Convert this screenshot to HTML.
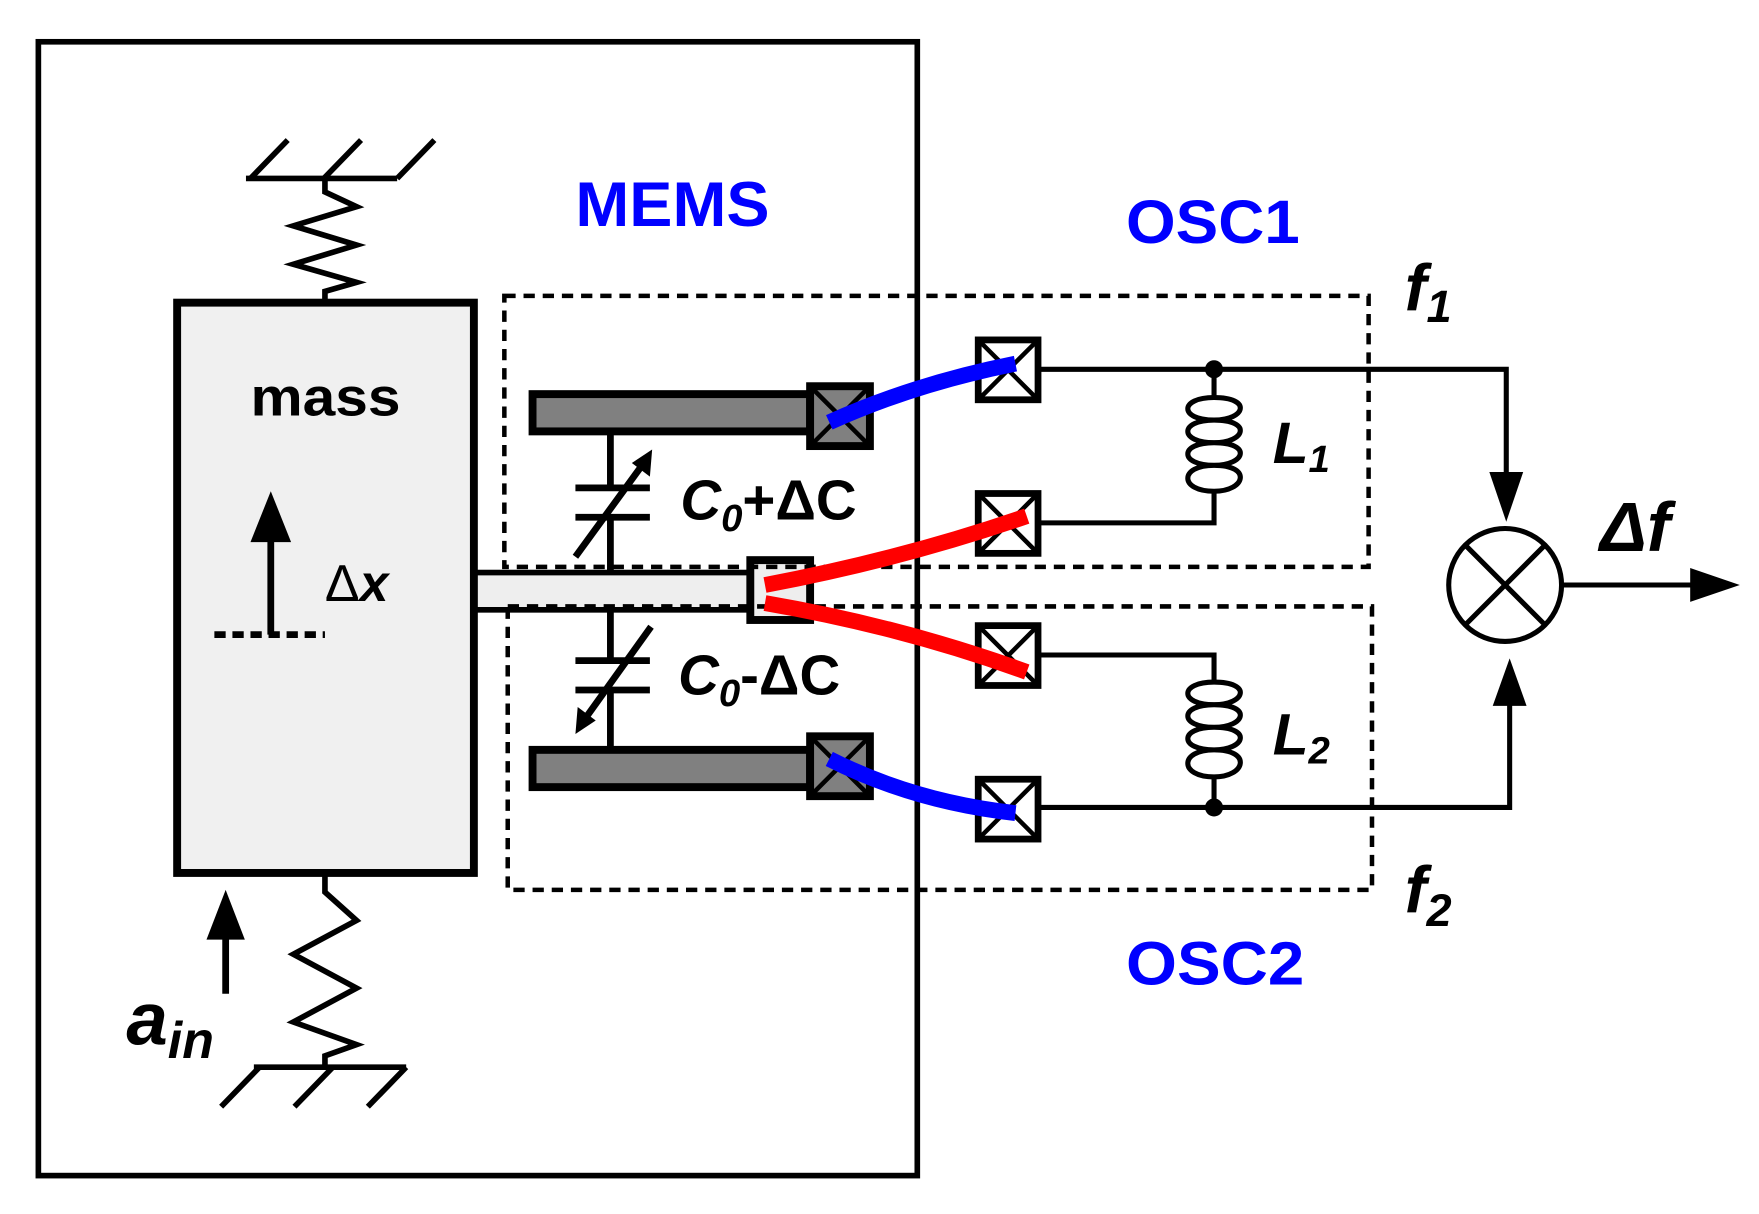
<!DOCTYPE html>
<html><head><style>
html,body{margin:0;padding:0;background:#fff;}
svg{display:block;}
text{font-family:"Liberation Sans",Arial,sans-serif;font-weight:bold;}
</style></head><body>
<svg width="1759" height="1214" viewBox="0 0 1559 1075" preserveAspectRatio="none" xmlns="http://www.w3.org/2000/svg">
<!-- outer box -->
<rect x="34" y="37" width="779" height="1004" fill="none" stroke="#000" stroke-width="5"/>
<!-- top ground -->
<line x1="218" y1="158" x2="352" y2="158" stroke="#000" stroke-width="5"/>
<g stroke="#000" stroke-width="5">
<line x1="255" y1="124" x2="222" y2="158"/><line x1="320" y1="124" x2="287" y2="158"/><line x1="385" y1="124" x2="352" y2="158"/>
</g>
<polyline points="288,158 288,170 316,183 260,200 316,217 260,234 316,250 288,258 288,268" fill="none" stroke="#000" stroke-width="5"/>
<!-- mass -->
<rect x="157" y="268" width="263" height="505" fill="#f0f0f0" stroke="#000" stroke-width="7"/>
<text x="222" y="368" font-size="48" textLength="133" lengthAdjust="spacingAndGlyphs">mass</text>
<line x1="240" y1="562" x2="240" y2="470" stroke="#000" stroke-width="6"/>
<polygon points="222,480 258,480 240,435" fill="#000"/>
<line x1="190" y1="562" x2="288" y2="562" stroke="#000" stroke-width="6" stroke-dasharray="10,6"/>
<text x="288" y="532" font-size="46" style="font-weight:normal">Δ<tspan font-style="italic" font-weight="bold">x</tspan></text>
<!-- bottom spring -->
<polyline points="288,773 288,790 316,815 260,845 316,875 260,905 316,925 288,935 288,945" fill="none" stroke="#000" stroke-width="5"/>
<line x1="225" y1="945" x2="360" y2="945" stroke="#000" stroke-width="5"/>
<g stroke="#000" stroke-width="5">
<line x1="230" y1="945" x2="196" y2="980"/><line x1="295" y1="945" x2="261" y2="980"/><line x1="360" y1="945" x2="326" y2="980"/>
</g>
<!-- a_in -->
<line x1="200" y1="880" x2="200" y2="822" stroke="#000" stroke-width="6"/>
<polygon points="183,832 217,832 200,788" fill="#000"/>
<text x="112" y="925" font-size="66" font-style="italic">a<tspan font-size="46" dy="12">in</tspan></text>
<!-- beam -->
<rect x="421" y="507" width="244" height="33" fill="#eee" stroke="#000" stroke-width="5"/>
<rect x="665" y="496" width="53" height="53" fill="#eee" stroke="#000" stroke-width="7"/>
<!-- electrodes -->
<rect x="472" y="349" width="246" height="33" fill="#808080" stroke="#000" stroke-width="7"/>
<rect x="718" y="342" width="53" height="53" fill="#808080" stroke="#000" stroke-width="7"/>
<path d="M721,345 L768,392 M768,345 L721,392" stroke="#000" stroke-width="4"/>
<rect x="472" y="664" width="246" height="33" fill="#808080" stroke="#000" stroke-width="7"/>
<rect x="718" y="652" width="53" height="53" fill="#808080" stroke="#000" stroke-width="7"/>
<path d="M721,655 L768,702 M768,655 L721,702" stroke="#000" stroke-width="4"/>
<!-- capacitors -->
<g stroke="#000" stroke-width="6">
<line x1="541" y1="383" x2="541" y2="432"/><line x1="510" y1="432" x2="576" y2="432"/>
<line x1="510" y1="458" x2="576" y2="458"/><line x1="541" y1="458" x2="541" y2="505"/>
<line x1="510" y1="493" x2="572" y2="408"/>
<line x1="541" y1="540" x2="541" y2="585"/><line x1="510" y1="585" x2="576" y2="585"/>
<line x1="510" y1="611" x2="576" y2="611"/><line x1="541" y1="611" x2="541" y2="662"/>
<line x1="577" y1="555" x2="516" y2="640"/>
</g>
<polygon points="578,398 576,422 560,410" fill="#000"/>
<polygon points="510,650 512,626 528,638" fill="#000"/>
<text x="603" y="460" font-size="50" font-style="italic">C<tspan font-size="34" dy="10">0</tspan><tspan dy="-10" font-style="normal">+ΔC</tspan></text>
<text x="601" y="615" font-size="50" font-style="italic">C<tspan font-size="34" dy="10">0</tspan><tspan dy="-10" font-style="normal">-ΔC</tspan></text>
<!-- dashed boxes -->
<rect x="447" y="262" width="766" height="240" fill="none" stroke="#000" stroke-width="4" stroke-dasharray="10,7"/>
<rect x="450" y="537" width="766" height="251" fill="none" stroke="#000" stroke-width="4" stroke-dasharray="10,7"/>
<!-- pads -->
<g fill="#fff" stroke="#000" stroke-width="6">
<rect x="867" y="301" width="53" height="53"/><rect x="867" y="437" width="53" height="53"/>
<rect x="867" y="554" width="53" height="53"/><rect x="867" y="690" width="53" height="53"/>
</g>
<path d="M869,303 L918,352 M918,303 L869,352 M869,439 L918,488 M918,439 L869,488 M869,556 L918,605 M918,556 L869,605 M869,692 L918,741 M918,692 L869,741" stroke="#000" stroke-width="4"/>
<!-- bond wires -->
<path d="M735,374 Q810,340 900,322" stroke="#0000ff" stroke-width="14" fill="none"/>
<path d="M678,518 Q800,495 910,457" stroke="#ff0000" stroke-width="14" fill="none"/>
<path d="M678,534 Q800,555 910,595" stroke="#ff0000" stroke-width="14" fill="none"/>
<path d="M735,672 Q810,710 900,720" stroke="#0000ff" stroke-width="14" fill="none"/>
<!-- wires -->
<g stroke="#000" stroke-width="4.5" fill="none">
<polyline points="920,327 1335,327 1335,428"/>
<polyline points="920,463 1076,463 1076,435"/>
<line x1="1076" y1="327" x2="1076" y2="352"/>
<path d="M1076,352 C1110,352 1104,372 1076,372 C1045,372 1045,352 1076,352 M1076,372 C1110,372 1104,392 1076,392 C1045,392 1045,372 1076,372 M1076,392 C1110,392 1104,412 1076,412 C1045,412 1045,392 1076,392 M1076,412 C1110,412 1104,435 1076,435 C1045,435 1045,412 1076,412"/>
<polyline points="920,580 1076,580 1076,604"/>
<path d="M1076,604 C1110,604 1104,624 1076,624 C1045,624 1045,604 1076,604 M1076,624 C1110,624 1104,644 1076,644 C1045,644 1045,624 1076,624 M1076,644 C1110,644 1104,664 1076,664 C1045,664 1045,644 1076,644 M1076,664 C1110,664 1104,688 1076,688 C1045,688 1045,664 1076,664"/>
<line x1="1076" y1="688" x2="1076" y2="715"/>
<polyline points="920,715 1338,715 1338,620"/>
<line x1="1384" y1="518" x2="1505" y2="518"/>
<circle cx="1334" cy="518" r="50"/>
<path d="M1299,483 L1369,553 M1369,483 L1299,553"/>
</g>
<circle cx="1076" cy="327" r="8" fill="#000"/>
<circle cx="1076" cy="715" r="8" fill="#000"/>
<polygon points="1320,418 1350,418 1335,462" fill="#000"/>
<polygon points="1323,625 1353,625 1338,583" fill="#000"/>
<polygon points="1498,503 1498,533 1542,518" fill="#000"/>
<!-- labels -->
<text x="1128" y="410" font-size="52" font-style="italic">L<tspan font-size="34" dy="8">1</tspan></text>
<text x="1128" y="668" font-size="52" font-style="italic">L<tspan font-size="34" dy="8">2</tspan></text>
<text x="1418" y="488" font-size="62" font-style="italic">Δf</text>
<text x="1245" y="275" font-size="58" font-style="italic">f<tspan font-size="40" dy="10">1</tspan></text>
<text x="1245" y="808" font-size="58" font-style="italic">f<tspan font-size="40" dy="12">2</tspan></text>
<text x="510" y="200" font-size="56" fill="#0000ff" textLength="172" lengthAdjust="spacingAndGlyphs">MEMS</text>
<text x="998" y="215" font-size="54" fill="#0000ff" textLength="154" lengthAdjust="spacingAndGlyphs">OSC1</text>
<text x="998" y="872" font-size="54" fill="#0000ff" textLength="158" lengthAdjust="spacingAndGlyphs">OSC2</text>
</svg>
</body></html>
